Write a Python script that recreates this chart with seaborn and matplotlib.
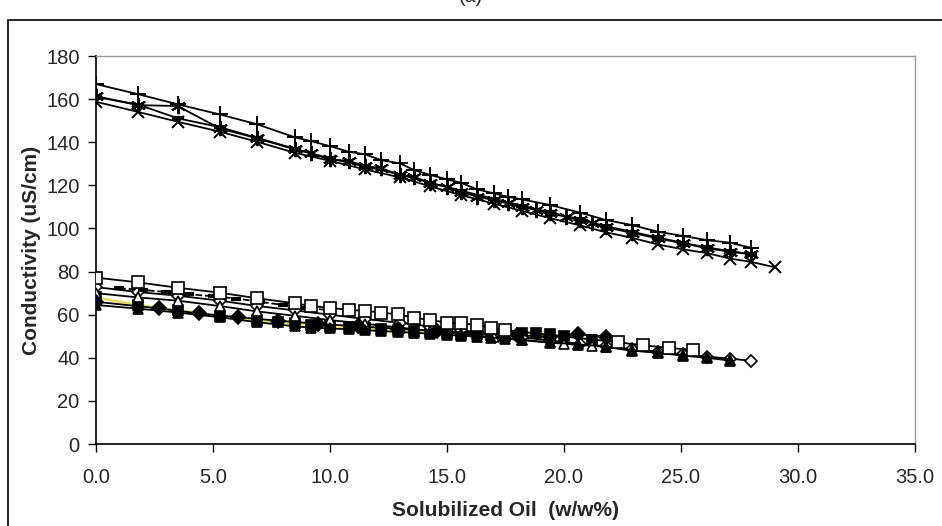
import matplotlib
matplotlib.use("Agg")
import matplotlib.pyplot as plt
import matplotlib.patches as mpatches
import seaborn as sns
import numpy as np

# ---------------- data ----------------
# upper group
plus_x = [0, 1.8, 3.5, 5.3, 6.9, 8.5, 9.2, 10.0, 10.8, 11.5, 12.2, 13.0, 13.6, 14.3, 15.0, 15.6,
          16.3, 17.0, 17.6, 18.2, 19.4, 20.7, 21.8, 22.9, 24.0, 25.1, 26.1, 27.1, 28.0]
plus_y = [167.0, 162.3, 157.6, 152.9, 148.3, 142.3, 140.5, 138.2, 135.6, 134.4, 131.7, 130.2, 127.1,
          124.8, 122.8, 121.2, 118.1, 116.3, 114.7, 113.5, 110.9, 107.3, 103.9, 101.6, 98.5, 96.5,
          94.6, 93.4, 91.0]

star_x = [0, 1.8, 3.5, 5.3, 6.9, 8.5, 9.2, 10.0, 10.8, 11.5, 12.2, 13.0, 13.6, 14.3, 15.0, 15.6,
          16.3, 17.0, 17.6, 18.2, 18.8, 19.4, 20.1, 20.7, 21.2, 21.8, 22.9, 24.0, 25.1, 26.1, 27.1, 28.0]
star_y = [161.4, 157.2, 156.8, 146.4, 141.8, 136.7, 134.8, 132.0, 131.4, 129.0, 127.9, 124.8, 124.0,
          120.9, 119.3, 117.0, 114.7, 113.2, 111.6, 110.1, 108.5, 107.0, 105.4, 103.9, 102.4, 100.5,
          98.0, 95.4, 93.1, 90.8, 89.2, 88.1]

dash_x = [0, 1.8, 3.5, 5.3, 6.9, 8.5, 10.0, 11.5, 13.0, 14.3, 15.6, 17.0, 18.2, 19.4, 20.7, 21.8,
          22.9, 24.0, 25.1, 26.1, 27.1, 28.0]
dash_y = [161.0, 157.5, 151.1, 147.0, 142.0, 137.0, 132.5, 128.8, 125.0, 121.2, 117.5, 113.8, 110.6,
          107.5, 104.2, 101.0, 98.5, 95.8, 93.3, 91.2, 89.5, 88.0]

cross_x = [0, 1.8, 3.5, 5.3, 6.9, 8.5, 10.0, 11.5, 13.0, 14.3, 15.6, 17.0, 18.2, 19.4, 20.7, 21.8,
           22.9, 24.0, 25.1, 26.1, 27.1, 28.0, 29.0]
cross_y = [158.8, 154.1, 149.5, 144.9, 140.2, 135.1, 131.4, 127.4, 123.7, 119.5, 115.5, 111.5, 108.2,
           104.8, 101.4, 98.2, 95.7, 92.6, 90.3, 88.6, 86.0, 84.5, 82.0]

# lower group
osq_x = [0, 1.8, 3.5, 5.3, 6.9, 8.5, 9.2, 10.0, 10.8, 11.5, 12.2, 12.9, 13.6, 14.3, 15.0, 15.6,
         16.3, 16.9, 17.5, 22.3, 23.4, 24.5, 25.5]
osq_y = [77.2, 75.0, 72.5, 70.2, 67.6, 65.3, 64.0, 63.2, 62.2, 61.8, 61.0, 60.1, 58.6, 57.5, 56.3,
         56.0, 55.2, 53.9, 52.9, 47.2, 45.8, 44.6, 43.6]

odia_x = [0, 1.8, 3.5, 5.3, 6.9, 8.5, 10.0, 11.5, 13.0, 14.3, 15.6, 17.0, 18.2, 19.4, 20.7, 21.8,
          22.9, 24.0, 25.1, 26.1, 27.1, 28.0]
odia_y = [72.8, 70.5, 68.8, 66.5, 64.0, 62.0, 60.0, 58.0, 56.2, 54.5, 52.8, 51.0, 49.5, 48.0, 46.5,
          45.3, 44.0, 42.8, 41.6, 40.5, 39.6, 38.6]

otri_x = [0, 1.8, 3.5, 5.3, 6.9, 8.5, 10.0, 11.5, 13.0, 14.3, 15.6, 17.0, 18.2, 19.4, 20.0, 20.6,
          21.2, 21.8, 22.9, 24.0, 25.1, 26.1, 27.1]
otri_y = [70.0, 68.0, 66.5, 64.0, 61.5, 59.5, 57.5, 55.8, 54.0, 52.5, 51.0, 49.5, 48.2, 47.0, 46.5,
          46.0, 45.6, 45.0, 43.3, 42.3, 41.0, 40.0, 38.7]

fsq_x = [0, 1.8, 3.5, 5.3, 6.9, 7.8, 8.5, 9.2, 10.0, 10.8, 11.5, 12.2, 12.9, 13.6, 14.3, 15.0, 15.6,
         16.3, 16.9, 17.5, 18.2, 18.8, 19.4, 20.0, 21.2]
fsq_y = [68.0, 64.5, 62.0, 59.5, 57.5, 56.5, 56.0, 55.2, 54.8, 54.2, 53.8, 53.2, 52.8, 52.4, 52.0,
         51.6, 51.2, 50.8, 50.5, 50.2, 51.6, 51.3, 50.8, 50.2, 48.2]

fdia_x = [0, 2.7, 4.4, 6.1, 7.8, 9.5, 11.2, 12.9, 14.6, 16.3, 18.0, 19.4, 20.6, 21.8]
fdia_y = [66.0, 62.9, 60.6, 58.8, 57.2, 55.8, 54.6, 53.5, 52.4, 51.3, 50.4, 49.8, 50.9, 49.8]

ftri_x = [0, 1.8, 3.5, 5.3, 6.9, 8.5, 9.2, 10.0, 10.8, 11.5, 12.2, 12.9, 13.6, 14.3, 15.0, 15.6,
          16.3, 16.9, 17.5, 18.2, 19.4, 20.6, 21.8, 22.9, 24.0, 25.1, 26.1, 27.1]
ftri_y = [64.5, 62.8, 61.0, 58.8, 56.5, 54.6, 54.0, 53.6, 53.2, 52.8, 52.4, 52.0, 51.6, 51.2, 50.7,
          50.2, 49.8, 49.3, 48.9, 48.3, 47.2, 46.2, 45.2, 43.6, 42.8, 41.3, 40.5, 39.2]

dsh_x = [1.0, 2.0, 3.0, 4.0, 5.0, 6.0, 7.0, 8.0, 9.0, 10.0]
dsh_y = [72.2, 71.5, 70.5, 69.5, 68.5, 67.5, 66.0, 64.5, 63.2, 62.0]

x_ticks = [0, 5, 10, 15, 20, 25, 30, 35]
y_ticks = [0, 20, 40, 60, 80, 100, 120, 140, 160, 180]

# ---------------- drawing ----------------
sns.set_theme(style="white")
plt.rcParams["font.family"] = ["Liberation Sans", "DejaVu Sans"]

fig = plt.figure(figsize=(9.42, 5.26), dpi=100)
ax = fig.add_axes([95.7 / 942, 1 - 444 / 526, (915 - 95.7) / 942, (444 - 56) / 526])

def draw(xs, ys, marker, filled=True, ms=7, color="black", ls="-", lw=1.3, mew=1.2, z=3):
    sns.lineplot(x=xs, y=ys, ax=ax, color=color, linestyle=ls, linewidth=lw, sort=False,
                 marker=marker, markersize=ms, markeredgecolor="black",
                 markerfacecolor=("black" if filled else "white"),
                 markeredgewidth=mew, zorder=z, legend=False)

# lower group
draw(fsq_x, fsq_y, "s", True, ms=7.5, color="#e4dc58", lw=1.8, z=2)
draw(odia_x, odia_y, "D", False, ms=6)
draw(otri_x, otri_y, "^", False, ms=7)
draw(fdia_x, fdia_y, "D", True, ms=7)
draw(ftri_x, ftri_y, "^", True, ms=7.5)
draw(dsh_x, dsh_y, "_", True, ms=7, ls="--", lw=1.3, mew=3)
draw(osq_x, osq_y, "s", False, ms=8)

# upper group
draw(cross_x, cross_y, "x", True, ms=9, mew=1.4)
draw(dash_x, dash_y, "_", True, ms=8, mew=3)
draw(star_x, star_y, (6, 2, 0), True, ms=11, mew=1.4)
draw(plus_x, plus_y, "+", True, ms=11, mew=1.4)

ax.set_xlim(0, 35)
ax.set_ylim(0, 180)
ax.set_xticks(x_ticks)
ax.set_xticklabels([f"{v:.1f}" for v in x_ticks])
ax.set_yticks(y_ticks)
ax.set_yticklabels([str(v) for v in y_ticks])
ax.tick_params(axis="both", direction="out", length=5.5, width=1, color="black",
               labelsize=14.5, left=True, bottom=True)
ax.tick_params(axis="y", pad=6)
ax.tick_params(axis="x", pad=12)
for side in ("left", "bottom"):
    ax.spines[side].set_color("black")
    ax.spines[side].set_linewidth(1.2)
for side in ("top", "right"):
    ax.spines[side].set_color("#9a9a9a")
    ax.spines[side].set_linewidth(1.0)
ax.set_xlabel("Solubilized Oil  (w/w%)", fontsize=15, fontweight="bold", labelpad=10)
ax.set_ylabel("Conductivity (uS/cm)", fontsize=15, fontweight="bold", labelpad=4)
ax.grid(False)

# chart-area frame (cropped on the right and bottom) and clipped title
frame = mpatches.Rectangle((8 / 942, -0.2), 1.2, 0.2 + (1 - 20 / 526), transform=fig.transFigure,
                           fill=False, edgecolor="black", linewidth=1.2)
fig.patches.append(frame)
fig.text(0.5, 1.005, "(a)", ha="center", va="center", fontsize=14)

fig.savefig("out.png", dpi=100)
